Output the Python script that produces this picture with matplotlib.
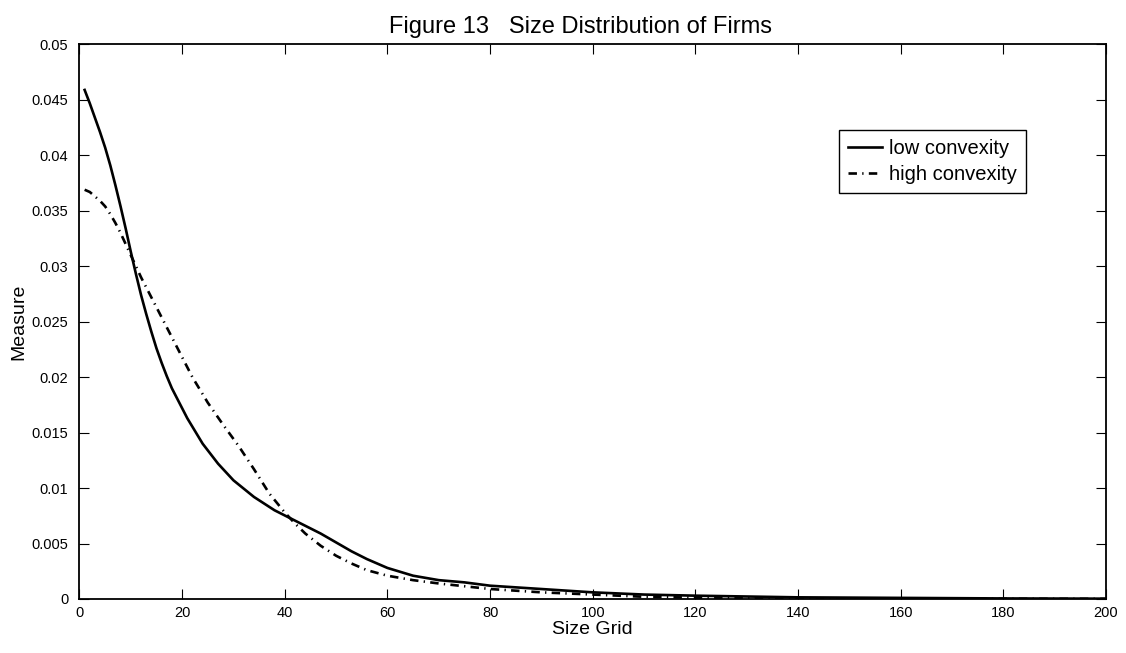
import numpy as np
import matplotlib
matplotlib.use('Agg')
import matplotlib.pyplot as plt
from matplotlib.ticker import FuncFormatter

plt.rcParams['font.family'] = ['Liberation Sans', 'DejaVu Sans']

# данные
x_low = [1, 2, 3, 4, 5, 6, 7, 8, 9, 10, 11, 12, 13, 14, 15, 16, 17, 18, 21,
         24, 27, 30, 34, 38, 41, 44, 47, 50, 53, 56, 60, 65, 70, 75, 80, 90,
         100, 110, 120, 140, 160, 180, 200]
y_low = [0.0459, 0.0447, 0.0434, 0.0421, 0.0407, 0.0391, 0.0373, 0.0354,
         0.0334, 0.0313, 0.0293, 0.0274, 0.0257, 0.0241, 0.0226, 0.0213,
         0.0201, 0.0190, 0.0163, 0.0140, 0.0122, 0.0107, 0.0092, 0.0080,
         0.0073, 0.0066, 0.0059, 0.0051, 0.0043, 0.0036, 0.0028, 0.0021,
         0.0017, 0.0015, 0.0012, 0.0009, 0.0006, 0.0004, 0.0003, 0.00015,
         0.0001, 0.00005, 0.00003]

x_high = [1, 2, 3, 4, 5, 6, 7, 8, 9, 10, 12, 14, 16, 18, 20, 22, 25, 28, 31,
          34, 37, 40, 42, 44, 47, 50, 53, 56, 60, 65, 70, 80, 90, 100, 110,
          120, 140, 160, 200]
y_high = [0.0369, 0.0367, 0.0363, 0.0359, 0.0354, 0.0347, 0.0339, 0.0330,
          0.0320, 0.0310, 0.0290, 0.0272, 0.0254, 0.0236, 0.0218, 0.0200,
          0.0177, 0.0157, 0.0138, 0.0117, 0.0095, 0.0078, 0.0068, 0.0059,
          0.0048, 0.0039, 0.0032, 0.0026, 0.0021, 0.0017, 0.0014, 0.0009,
          0.0006, 0.0004, 0.0002, 0.00012, 0.00005, 0.00002, 0.00001]

x_ticks = np.arange(0, 201, 20)
y_ticks = np.arange(0, 0.0501, 0.005)

fig = plt.figure(figsize=(11.26, 6.53), dpi=100)
ax = fig.add_axes([0.0706, 0.0827, 0.9116, 0.8492])

ax.plot(x_low, y_low, color='black', lw=1.9, label='low convexity')
ax.plot(x_high, y_high, color='black', lw=1.9, linestyle=(0, (3.2, 2, 0.5, 2)),
        label='high convexity')

ax.set_xlim(0, 200)
ax.set_ylim(0, 0.05)
ax.set_xticks(x_ticks)
ax.set_yticks(y_ticks)
ax.yaxis.set_major_formatter(FuncFormatter(lambda v, p: '%g' % round(v, 4)))
ax.tick_params(direction='in', length=7, width=0.8, top=True, right=True,
               labelsize=10.5)
ax.tick_params(axis='y', pad=8)
ax.tick_params(axis='x', pad=5)
for s in ax.spines.values():
    s.set_linewidth(1.3)

ax.set_xlabel('Size Grid', fontsize=14, labelpad=1)
ax.set_ylabel('Measure', fontsize=14, labelpad=3)
ax.set_title('Figure 13   Size Distribution of Firms', fontsize=17, pad=8,
             x=0.488)

leg = ax.legend(loc='upper left', bbox_to_anchor=(0.740, 0.846), fontsize=14.5,
                handlelength=1.7, handletextpad=0.35, borderpad=0.45,
                labelspacing=0.35, borderaxespad=0, fancybox=False,
                framealpha=1)
leg.get_frame().set_edgecolor('black')
leg.get_frame().set_linewidth(1.0)

fig.savefig('out.png', dpi=100)
